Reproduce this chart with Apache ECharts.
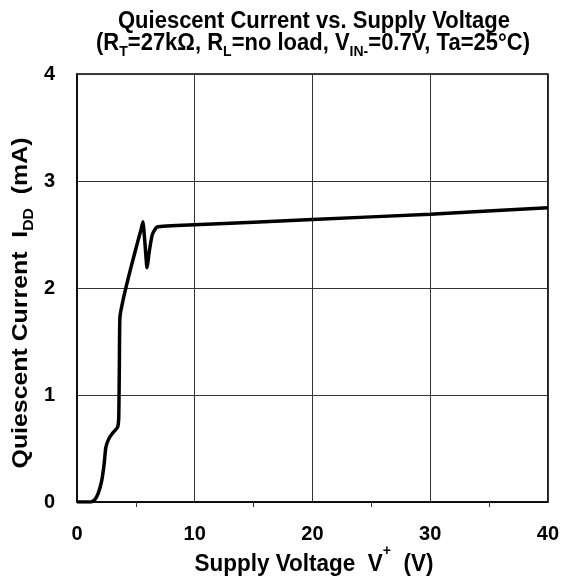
<!DOCTYPE html>
<html>
<head>
<meta charset="utf-8">
<script src="https://cdn.jsdelivr.net/npm/echarts@6/dist/echarts.min.js"></script>
<style>html,body{margin:0;padding:0;background:#fff;}#c{width:562px;height:580px;}</style>
</head>
<body>
<div id="c"></div>
<script>
const voltage = [0, 1.2, 1.5, 1.8, 2.1, 2.3, 2.45, 2.7, 3.0, 3.45, 3.55, 3.6, 3.65, 4.0, 4.6, 5.2, 5.45, 5.6, 5.75, 5.95, 6.15, 6.4, 6.8, 10, 20, 30, 40];
const current = [0, 0, 0.02, 0.08, 0.2, 0.35, 0.51, 0.59, 0.64, 0.7, 0.8, 1.3, 1.73, 1.93, 2.2, 2.45, 2.55, 2.62, 2.45, 2.19, 2.35, 2.5, 2.57, 2.59, 2.64, 2.69, 2.75];
const xTicks = [0, 10, 20, 30, 40];
const yTicks = [0, 1, 2, 3, 4];

const FONT = 'Liberation Sans, Arial, sans-serif';
const chart = echarts.init(document.getElementById('c'));
const base = {fontFamily: FONT, fontWeight: 'bold', fontSize: 22, color: '#000'};
const sub = {fontFamily: FONT, fontWeight: 'bold', fontSize: 14, verticalAlign: 'bottom', padding: [0,0,-4,0], color: '#000'};
const sup = {fontFamily: FONT, fontWeight: 'bold', fontSize: 14, verticalAlign: 'top', padding: [-8,0,0,0], color: '#000'};
chart.setOption({
  animation: false,
  backgroundColor: '#fff',
  grid: {left: 77, right: 14, top: 74, bottom: 78, show: true, borderColor: '#000', borderWidth: 1.5, backgroundColor: 'transparent'},
  graphic: [
    {type: 'text', x: 314, y: 21, scaleY: 1.08, style: {
      text: 'Quiescent Current vs. Supply Voltage',
      align: 'center', verticalAlign: 'middle',
      fontFamily: FONT, fontWeight: 'bold', fontSize: 22, fill: '#000'
    }},
    {type: 'text', x: 313, y: 43, scaleY: 1.08, style: {
      text: '{b|(R}{s|T}{b|=27kΩ, R}{s|L}{b|=no load, V}{s|IN-}{b|=0.7V, Ta=25°C)}',
      align: 'center', verticalAlign: 'middle',
      rich: {b: base, s: sub}
    }},
    {type: 'text', x: 21, y: 303, rotation: Math.PI/2, scaleX: 1.13, style: {
      text: '{b|Quiescent Current  I}{s|DD}{b|  (mA)}',
      align: 'center', verticalAlign: 'middle',
      rich: {b: base, s: sub}
    }},
    {type: 'text', x: 314, y: 564, scaleY: 1.08, style: {
      text: '{b|Supply Voltage  V}{p|+}{b|  (V)}',
      align: 'center', verticalAlign: 'middle',
      rich: {b: Object.assign({}, base, {fontSize: 22.5}), p: sup}
    }}
  ],
  xAxis: {
    type: 'value', min: xTicks[0], max: xTicks[xTicks.length-1], interval: 10,
    axisLine: {lineStyle: {color: '#000', width: 1.5}},
    axisTick: {show: false},
    minorTick: {show: true, splitNumber: 2, length: 5, lineStyle: {color: '#333', width: 1}},
    minorSplitLine: {show: false},
    splitLine: {show: true, lineStyle: {color: '#333', width: 1}},
    axisLabel: {margin: 22, fontFamily: FONT, fontWeight: 'bold', fontSize: 20, color: '#000'}
  },
  yAxis: {
    type: 'value', min: yTicks[0], max: yTicks[yTicks.length-1], interval: 1,
    axisLine: {show: true, lineStyle: {color: '#000', width: 1.5}},
    axisTick: {show: false},
    splitLine: {show: true, lineStyle: {color: '#333', width: 1}},
    axisLabel: {margin: 22, fontFamily: FONT, fontWeight: 'bold', fontSize: 20, color: '#000'}
  },
  series: [{
    type: 'line', data: voltage.map((v,i)=>[v, current[i]]),
    showSymbol: false, smooth: 0.15,
    lineStyle: {color: '#000', width: 3.5}
  }]
});
</script>
</body>
</html>
